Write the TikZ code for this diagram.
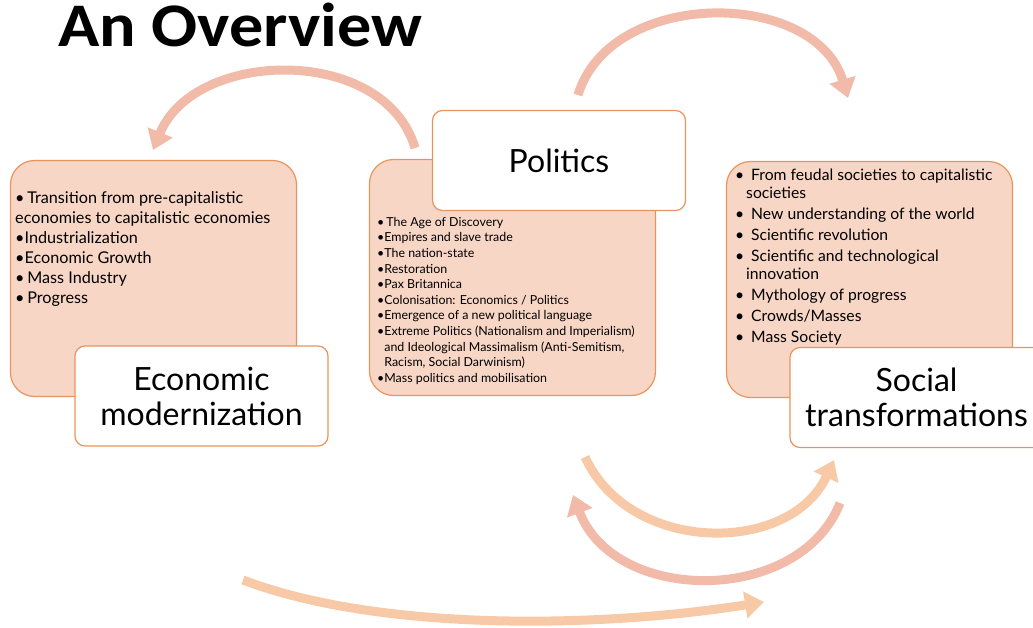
\documentclass[tikz,border=0pt]{standalone}
\usepackage{fontspec}
\setmainfont{Lato}
\newfontfamily\titlefont{Carlito}
\usepackage{xcolor}
\usetikzlibrary{arrows.meta, positioning}
\definecolor{panelfill}{RGB}{248, 214, 198}
\definecolor{paneledge}{RGB}{232, 148, 92}
\definecolor{arcpink}{RGB}{242, 186, 168}
\definecolor{arcpeach}{RGB}{247, 201, 166}
\newcommand{\bul}{\textbullet\,}
\newcommand{\sitem}{\makebox[16pt][l]{\textbullet}}

\begin{document}
\begin{tikzpicture}[
    x=1pt, y=-1pt,
    panel/.style={draw=paneledge, fill=panelfill, line width=1.2pt, rounded corners=24pt, minimum width=286pt, minimum height=236pt, inner sep=0pt},
    heading/.style={draw=paneledge, fill=white, line width=1.2pt, rounded corners=10pt, minimum width=253pt, minimum height=100pt, align=center, font=\fontsize{32}{35}\selectfont},
    points/.style={anchor=north west, inner sep=0pt, align=left},
    cycle/.style={line width=9pt, -{Triangle[length=19pt, width=26pt]}}
]
    \useasboundingbox (0,0) rectangle (1033,627);

    % Title
    \node[anchor=base west, inner sep=0pt, font=\titlefont\bfseries\fontsize{62}{62}\selectfont] (title) at (58,46) {\scalebox{1.1}[1]{An Overview}};

    % Arc end points
    \coordinate (econ in) at (153,150);
    \coordinate (pol out) at (415,148);
    \coordinate (pol up) at (578,95);
    \coordinate (soc in) at (848,98);
    \coordinate (low a) at (585,457);
    \coordinate (low b) at (834,460);
    \coordinate (low c) at (840,503);
    \coordinate (low d) at (573,495);
    \coordinate (base a) at (243,580);
    \coordinate (base b) at (764,602);

    % Arcs
    \draw[cycle, arcpink] (pol out) .. controls (385,45) and (195,48) .. (econ in);
    \draw[cycle, arcpink] (pol up) .. controls (610,-12) and (815,-12) .. (soc in);
    \draw[cycle, arcpeach] (low a) .. controls (630,555) and (790,555) .. (low b);
    \draw[cycle, arcpink] (low c) .. controls (800,605) and (615,605) .. (low d);
    \draw[cycle, arcpeach] (base a) .. controls (380,632) and (600,628) .. (base b);

    % Panels
    \node[panel] (econ) at (153.5,278.5) {};
    \node[panel] (pol) at (512.5,277.5) {};
    \node[panel] (soc) at (869.5,279.5) {};

    % Panel texts
    \node[points, font=\fontsize{16.2}{20}\selectfont] (econ list) at (15,191) {%
        \bul Transition from pre-capitalistic\\
        economies to capitalistic economies\\
        \textbullet Industrialization\\
        \textbullet Economic Growth\\
        \bul Mass Industry\\
        \bul Progress};
    \node[points, font=\fontsize{12.4}{15.6}\selectfont] (pol list) at (377,217) {%
        \bul The Age of Discovery\\
        \textbullet Empires and slave trade\\
        \textbullet The nation-state\\
        \textbullet Restoration\\
        \textbullet Pax Britannica\\
        \textbullet Colonisation: Economics / Politics\\
        \textbullet Emergence of a new political language\\
        \textbullet Extreme Politics (Nationalism and Imperialism)\\
        \phantom{\textbullet}and Ideological Massimalism (Anti-Semitism,\\
        \phantom{\textbullet}Racism, Social Darwinism)\\
        \textbullet Mass politics and mobilisation};
    \node[points, font=\fontsize{15.7}{18}\selectfont] (soc list) at (735,169) {%
        \sitem From feudal societies to capitalistic\\
        \hspace*{11pt}societies\\[3pt]
        \sitem New understanding of the world\\[3pt]
        \sitem Scientific revolution\\[3pt]
        \sitem Scientific and technological\\
        \hspace*{11pt}innovation\\[3pt]
        \sitem Mythology of progress\\[3pt]
        \sitem Crowds/Masses\\[3pt]
        \sitem Mass Society};

    % Headings
    \node[heading] (econ head) at (201.5,396) {Economic\\modernization};
    \node[heading] (pol head) at (559,160.5) {Politics};
    \node[heading] (soc head) at (916.5,397.5) {Social\\transformations};
\end{tikzpicture}
\end{document}
